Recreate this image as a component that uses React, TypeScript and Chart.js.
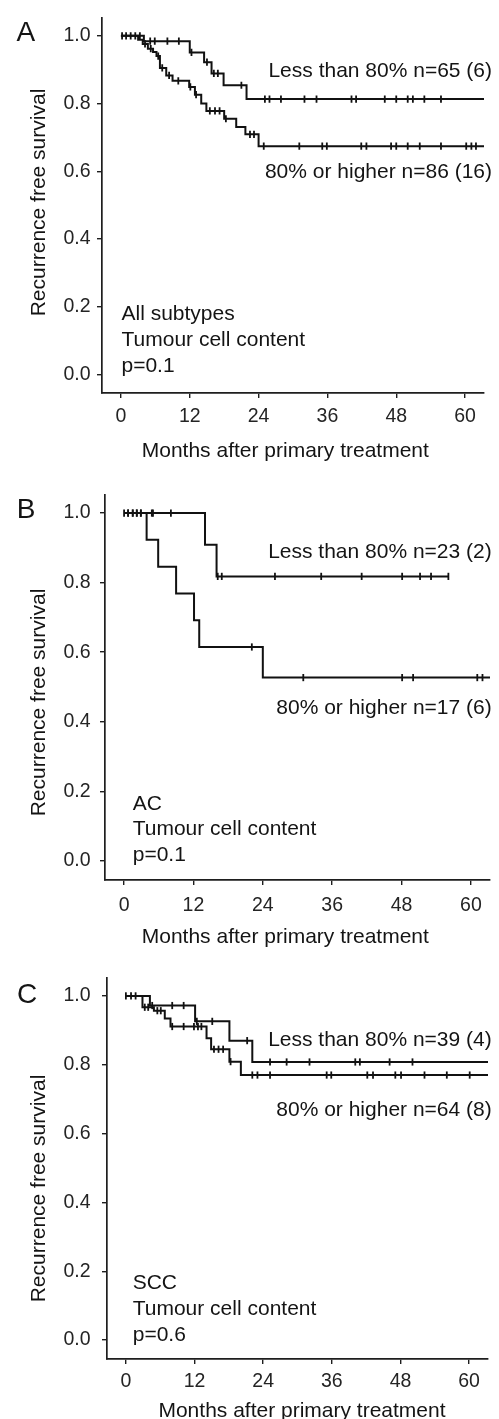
import React, { useEffect, useRef } from "react";
import { Chart, registerables } from "chart.js";
Chart.register(...registerables);

const FONT = "'Liberation Sans', Arial, Helvetica, sans-serif";
const W = 499;

const X_TICKS = [0, 12, 24, 36, 48, 60];
const Y_TICKS = [0, 0.2, 0.4, 0.6, 0.8, 1.0];
const X_MIN = -3.3;
const X_MAX = 63.3;
const Y_MIN = -0.055;
const Y_MAX = 1.052;

const Y_TITLE = "Recurrence free survival";
const X_TITLE = "Months after primary treatment";

// Panel A – all subtypes
const A_LT80_TIME = [0, 4.0, 12.0, 14.5, 15.8, 17.9, 21.9, 63.3];
const A_LT80_SURV = [1, 0.984, 0.951, 0.922, 0.889, 0.854, 0.813, 0.813];
const A_LT80_CENS = [0.2, 0.9, 1.7, 2.5, 3.3, 5.1, 5.9, 8.1, 10.1, 12.3, 15.0, 16.2, 16.9, 21.0, 25.1, 25.9, 27.9, 32.0, 34.1, 40.2, 41.0, 46.0, 48.0, 50.0, 50.9, 52.9, 55.8];
const A_GE80_TIME = [0, 3.0, 3.8, 4.7, 5.6, 6.2, 6.8, 7.9, 9.0, 11.9, 12.9, 14.0, 14.9, 18.0, 20.1, 21.7, 24.0, 63.3];
const A_GE80_SURV = [1, 0.988, 0.976, 0.962, 0.952, 0.94, 0.905, 0.883, 0.867, 0.849, 0.826, 0.8, 0.778, 0.755, 0.731, 0.709, 0.674, 0.674];
const A_GE80_CENS = [4.2, 5.2, 6.5, 7.2, 8.4, 10.0, 12.1, 13.1, 15.5, 16.4, 17.2, 18.3, 22.5, 23.2, 24.9, 31.1, 35.1, 35.9, 41.9, 42.8, 47.1, 48.0, 50.0, 52.1, 55.8, 60.2, 61.1, 61.9];

// Panel B – AC
const B_LT80_TIME = [0, 14.0, 16.0, 56.1];
const B_LT80_SURV = [1, 0.909, 0.818, 0.818];
const B_LT80_CENS = [0, 0.7, 1.5, 2.2, 2.9, 4.8, 5.0, 8.1, 16.2, 16.9, 26.1, 34.1, 41.1, 48.1, 51.2, 53.1, 56.1];
const B_GE80_TIME = [0, 3.9, 5.9, 9.0, 12.1, 13.0, 24.0, 63.3];
const B_GE80_SURV = [1, 0.923, 0.846, 0.769, 0.692, 0.615, 0.527, 0.527];
const B_GE80_CENS = [0.7, 1.5, 2.2, 2.9, 22.1, 31.0, 48.1, 50.0, 61.1, 62.0];

// Panel C – SCC
const C_LT80_TIME = [0, 4.2, 12.1, 18.1, 22.1, 63.3];
const C_LT80_SURV = [1, 0.972, 0.926, 0.87, 0.808, 0.808];
const C_LT80_CENS = [0, 0.9, 1.7, 4.6, 8.1, 10.1, 12.4, 15.1, 21.2, 25.2, 28.1, 32.1, 40.1, 40.9, 46.1, 50.1];
const C_GE80_TIME = [0, 2.9, 4.9, 6.8, 7.8, 14.1, 14.9, 18.1, 20.1, 63.3];
const C_GE80_SURV = [1, 0.967, 0.957, 0.934, 0.911, 0.877, 0.845, 0.809, 0.77, 0.77];
const C_GE80_CENS = [3.3, 3.9, 5.5, 6.1, 8.1, 10.1, 11.9, 12.6, 13.2, 15.4, 16.2, 17.0, 18.3, 22.1, 23.0, 25.2, 35.1, 35.9, 42.2, 43.2, 47.1, 48.1, 52.2, 56.1, 60.1];

type Curve = { time: number[]; surv: number[]; cens: number[] };
type PanelCfg = {
  letter: string;
  info: string[];
  lt80Label: string;
  ge80Label: string;
  lt80: Curve;
  ge80: Curve;
  top: number;
  height: number;
  area: { l: number; t: number; r: number; b: number };
  yTickPad: number;
  xTickPad: number;
  letterPos: { x: number; base: number };
  yTitlePos: { x: number; cy: number };
  xTitlePos: { cx: number; base: number };
  lt80Pos: { right: number; base: number };
  ge80Pos: { right: number; base: number };
  infoPos: { x: number; bases: number[] };
};

const PANELS: PanelCfg[] = [
  {
    letter: "A",
    info: ["All subtypes", "Tumour cell content", "p=0.1"],
    lt80Label: "Less than 80% n=65 (6)",
    ge80Label: "80% or higher n=86 (16)",
    lt80: { time: A_LT80_TIME, surv: A_LT80_SURV, cens: A_LT80_CENS },
    ge80: { time: A_GE80_TIME, surv: A_GE80_SURV, cens: A_GE80_CENS },
    top: 0,
    height: 470,
    area: { l: 102, t: 12, r: 484, b: 393 },
    yTickPad: 6.5,
    xTickPad: 7,
    letterPos: { x: 16.5, base: 41 },
    yTitlePos: { x: 45, cy: 202.5 },
    xTitlePos: { cx: 285.3, base: 457 },
    lt80Pos: { right: 492, base: 77.3 },
    ge80Pos: { right: 492, base: 177.7 },
    infoPos: { x: 121.5, bases: [320, 346, 371.7] },
  },
  {
    letter: "B",
    info: ["AC", "Tumour cell content", "p=0.1"],
    lt80Label: "Less than 80% n=23 (2)",
    ge80Label: "80% or higher n=17 (6)",
    lt80: { time: B_LT80_TIME, surv: B_LT80_SURV, cens: B_LT80_CENS },
    ge80: { time: B_GE80_TIME, surv: B_GE80_SURV, cens: B_GE80_CENS },
    top: 470,
    height: 480,
    area: { l: 105, t: 25, r: 490, b: 410 },
    yTickPad: 9.5,
    xTickPad: 8.6,
    letterPos: { x: 16.7, base: 48.3 },
    yTitlePos: { x: 45, cy: 232.5 },
    xTitlePos: { cx: 285.3, base: 472.7 },
    lt80Pos: { right: 491.7, base: 88.3 },
    ge80Pos: { right: 491.7, base: 244 },
    infoPos: { x: 132.7, bases: [340, 365, 391] },
  },
  {
    letter: "C",
    info: ["SCC", "Tumour cell content", "p=0.6"],
    lt80Label: "Less than 80% n=39 (4)",
    ge80Label: "80% or higher n=64 (8)",
    lt80: { time: C_LT80_TIME, surv: C_LT80_SURV, cens: C_LT80_CENS },
    ge80: { time: C_GE80_TIME, surv: C_GE80_SURV, cens: C_GE80_CENS },
    top: 940,
    height: 479,
    area: { l: 107, t: 38, r: 488, b: 419 },
    yTickPad: 11.5,
    xTickPad: 6.2,
    letterPos: { x: 17, base: 63.3 },
    yTitlePos: { x: 45, cy: 248.5 },
    xTitlePos: { cx: 302, base: 477 },
    lt80Pos: { right: 491.7, base: 106 },
    ge80Pos: { right: 491.7, base: 175.7 },
    infoPos: { x: 132.7, bases: [349.3, 375, 401] },
  },
];

function survAt(c: Curve, t: number): number {
  let s = c.surv[0];
  for (let i = 0; i < c.time.length; i++) {
    if (c.time[i] <= t) s = c.surv[i];
  }
  return s;
}

const LINE_COLOR = "#111111";
const TEXT_COLOR = "#141414";
const TICK_TEXT = "#242424";
const AXIS_COLOR = "#1e1e1e";

function curveDatasets(c: Curve) {
  return [
    {
      data: c.time.map((t, i) => ({ x: t, y: c.surv[i] })),
      stepped: "before" as const,
      borderColor: LINE_COLOR,
      borderWidth: 2,
      pointRadius: 0,
      fill: false,
      showLine: true,
    },
    {
      data: c.cens.map((t) => ({ x: t, y: survAt(c, t) })),
      showLine: false,
      pointStyle: "line" as const,
      rotation: 90,
      pointRadius: 3.6,
      pointBorderWidth: 1.8,
      borderColor: LINE_COLOR,
      pointBorderColor: LINE_COLOR,
      backgroundColor: LINE_COLOR,
    },
  ];
}

function KMPanel({ panel }: { panel: PanelCfg }) {
  const ref = useRef<HTMLCanvasElement | null>(null);
  useEffect(() => {
    const canvas = ref.current;
    if (!canvas) return;
    const p = panel;
    const textPlugin = {
      id: "kmText",
      afterDraw(chart: any) {
        const ctx = chart.ctx as CanvasRenderingContext2D;
        ctx.save();
        ctx.fillStyle = TEXT_COLOR;
        ctx.textBaseline = "alphabetic";
        ctx.font = `28px ${FONT}`;
        ctx.textAlign = "left";
        ctx.fillText(p.letter, p.letterPos.x, p.letterPos.base);
        ctx.font = `21px ${FONT}`;
        ctx.textAlign = "right";
        ctx.fillText(p.lt80Label, p.lt80Pos.right, p.lt80Pos.base);
        ctx.fillText(p.ge80Label, p.ge80Pos.right, p.ge80Pos.base);
        ctx.textAlign = "left";
        p.info.forEach((line, i) => ctx.fillText(line, p.infoPos.x, p.infoPos.bases[i]));
        ctx.textAlign = "center";
        ctx.fillText(X_TITLE, p.xTitlePos.cx, p.xTitlePos.base);
        ctx.translate(p.yTitlePos.x, p.yTitlePos.cy);
        ctx.rotate(-Math.PI / 2);
        ctx.textAlign = "center";
        ctx.fillText(Y_TITLE, 0, 0);
        ctx.restore();
      },
    };

    const chart = new Chart(canvas, {
      type: "line",
      data: {
        datasets: [...curveDatasets(p.lt80), ...curveDatasets(p.ge80)] as any,
      },
      options: {
        responsive: false,
        maintainAspectRatio: false,
        animation: false,
        devicePixelRatio: 1,
        layout: {
          padding: { left: 0, top: p.area.t, right: W - p.area.r, bottom: 0 },
        },
        plugins: {
          legend: { display: false },
          tooltip: { enabled: false },
          title: { display: false },
        },
        scales: {
          x: {
            type: "linear",
            min: X_MIN,
            max: X_MAX,
            afterBuildTicks: (s: any) => {
              s.ticks = X_TICKS.map((v) => ({ value: v }));
            },
            afterFit: (s: any) => {
              s.height = p.height - p.area.b;
            },
            grid: {
              drawOnChartArea: false,
              drawTicks: true,
              tickLength: 5,
              color: AXIS_COLOR,
              lineWidth: 1.4,
            },
            border: { display: true, color: AXIS_COLOR, width: 1.7 },
            ticks: {
              color: TICK_TEXT,
              font: { family: FONT, size: 19.5 },
              padding: p.xTickPad,
              maxRotation: 0,
              autoSkip: false,
              callback: (v: any) => String(v),
            },
          },
          y: {
            type: "linear",
            min: Y_MIN,
            max: Y_MAX,
            afterBuildTicks: (s: any) => {
              s.ticks = Y_TICKS.map((v) => ({ value: v }));
            },
            afterFit: (s: any) => {
              s.width = p.area.l;
            },
            grid: {
              drawOnChartArea: false,
              drawTicks: true,
              tickLength: 5,
              color: AXIS_COLOR,
              lineWidth: 1.4,
            },
            border: { display: true, color: AXIS_COLOR, width: 1.7 },
            ticks: {
              color: TICK_TEXT,
              font: { family: FONT, size: 19.5 },
              padding: p.yTickPad,
              autoSkip: false,
              callback: (v: any) => Number(v).toFixed(1),
            },
          },
        },
      } as any,
      plugins: [textPlugin],
    });
    return () => chart.destroy();
  }, [panel]);

  return (
    <canvas
      ref={ref}
      width={W}
      height={panel.height}
      style={{ position: "absolute", left: 0, top: panel.top, width: W, height: panel.height }}
    />
  );
}

export default function App() {
  return (
    <div style={{ position: "absolute", left: 0, top: 0, width: W, height: 1419, background: "#ffffff" }}>
      {PANELS.map((p) => (
        <KMPanel key={p.letter} panel={p} />
      ))}
    </div>
  );
}
